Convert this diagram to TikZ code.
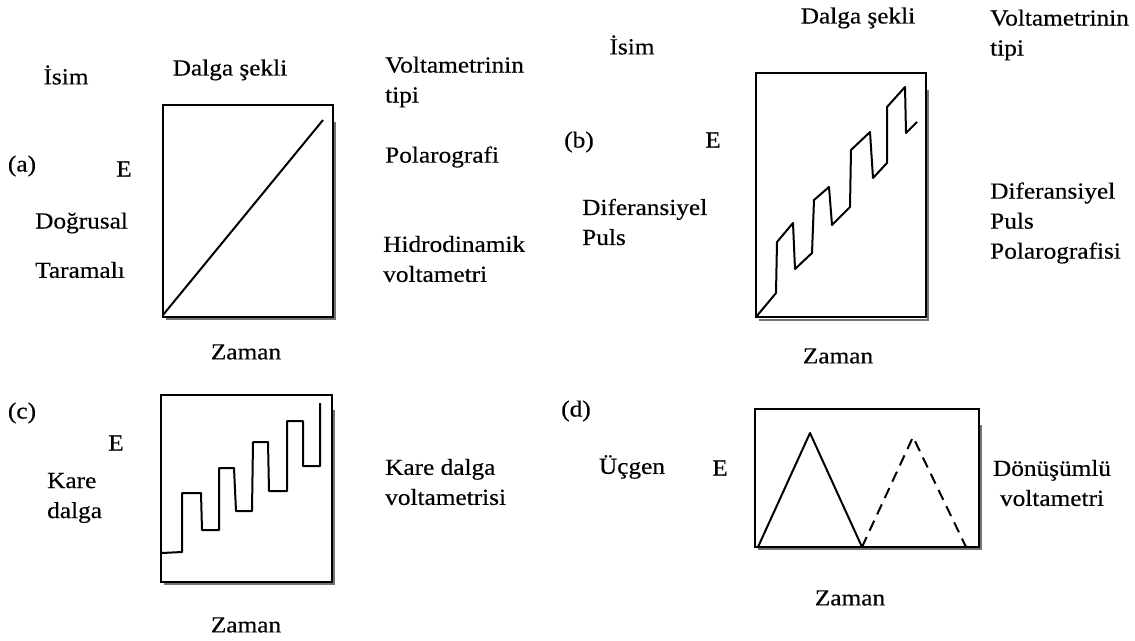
\documentclass[tikz,border=0pt]{standalone}
\usepackage{fontspec}
\setmainfont[FakeStretch=1.1,FakeBold=0.4]{Liberation Serif}
\begin{document}
\begin{tikzpicture}[x=1pt,y=-1pt,
  lbl/.style={font=\fontsize{23}{30}\selectfont, inner sep=0pt, align=left},
  frame/.style={draw=black, line width=1.3pt},
  shade/.style={draw=black!55, line width=2.6pt},
  wave/.style={draw=black, line width=2pt, line join=round},
  wavedash/.style={wave, dash pattern=on 11pt off 7pt}]
\useasboundingbox[fill=white] (0,0) rectangle (1135,640);

% ---------- headers ----------
\node[lbl] (isimL) at (66,75) {İsim};
\node[lbl] (dalgaL) at (230,70) {Dalga şekli};
\node[lbl, anchor=west] (voltL) at (385,82) {Voltametrinin\\tipi};
\node[lbl] (isimR) at (632,45) {İsim};
\node[lbl] (dalgaR) at (858,18) {Dalga şekli};
\node[lbl, anchor=west] (voltR) at (990,35) {Voltametrinin\\tipi};

% ---------- panel (a) ----------
\node[lbl] (a) at (22,166) {(a)};
\node[lbl] (Ea) at (124,169) {E};
\node[lbl, anchor=west] (dog) at (35,223) {Doğrusal};
\node[lbl, anchor=west] (tar) at (35,270) {Taramalı};
\draw[shade] (166,319) -- (335,319) -- (335,122);
\draw[frame] (163,105) rectangle (333,317);
\draw[wave] (163,315) -- (323,120);
\node[lbl, anchor=west] (pol) at (385,157) {Polarografi};
\node[lbl, anchor=west] (hid) at (383,259) {Hidrodinamik\\voltametri};
\node[lbl] (Za) at (246,352) {Zaman};

% ---------- panel (b) ----------
\node[lbl] (b) at (579,142) {(b)};
\node[lbl] (Eb) at (713,140) {E};
\node[lbl, anchor=west] (difL) at (582,222) {Diferansiyel\\Puls};
\draw[shade] (759,320) -- (928,320) -- (928,90);
\draw[frame] (756,73) rectangle (926,317);
\draw[wave] (756,317) -- (776,293) -- (777,242) -- (793,223) -- (795,269)
  -- (812,253) -- (814,200) -- (829,187) -- (832,225) -- (850,207)
  -- (851,150) -- (870,132) -- (873,178) -- (887,163) -- (887,107)
  -- (905,87) -- (906,133) -- (917,122);
\node[lbl, anchor=west] (difR) at (990,223) {Diferansiyel\\Puls\\Polarografisi};
\node[lbl] (Zb) at (838,356) {Zaman};

% ---------- panel (c) ----------
\node[lbl] (c) at (22,413) {(c)};
\node[lbl] (Ec) at (116,443) {E};
\node[lbl, anchor=west] (kare) at (47,498) {Kare\\dalga};
\draw[shade] (164,584) -- (334,584) -- (334,410);
\draw[frame] (161,395) rectangle (332,582);
\draw[wave] (162,553) -- (182,552) -- (182,493) -- (201,493) -- (202,530)
  -- (219,530) -- (219,468) -- (234,468) -- (236,511) -- (252,511)
  -- (253,442) -- (268,442) -- (269,491) -- (287,491) -- (287,421)
  -- (303,421) -- (303,466) -- (320,466) -- (320,403);
\node[lbl, anchor=west] (kdv) at (385,482) {Kare dalga\\voltametrisi};
\node[lbl] (Zc) at (246,625) {Zaman};

% ---------- panel (d) ----------
\node[lbl] (d) at (576,411) {(d)};
\node[lbl] (ucg) at (632,467) {Üçgen};
\node[lbl] (Ed) at (720,468) {E};
\draw[shade] (758,549) -- (981,549) -- (981,425);
\draw[frame] (755,409) rectangle (979,547);
\draw[wave] (758,547) -- (810,433) -- (862,547);
\draw[wavedash] (862,547) -- (913,437) -- (966,547);
\node[lbl, align=center] (don) at (1052,483) {Dönüşümlü\\voltametri};
\node[lbl] (Zd) at (850,598) {Zaman};
\end{tikzpicture}
\end{document}
